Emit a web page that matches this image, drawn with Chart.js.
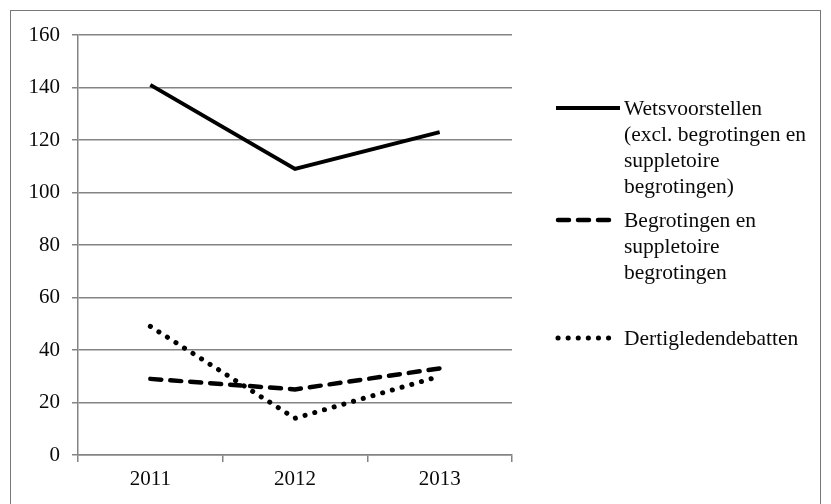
<!DOCTYPE html>
<html>
<head>
<meta charset="utf-8">
<script src="https://cdn.jsdelivr.net/npm/chart.js@4.4.0/dist/chart.umd.min.js"></script>
<style>
  html,body{margin:0;padding:0;background:#fff;}
  #wrap{position:relative;width:831px;height:504px;overflow:hidden;}
  #frame{position:absolute;left:10px;top:10px;width:811px;height:520px;border:1.5px solid #777;box-sizing:border-box;}
  canvas{position:absolute;left:0;top:0;}
</style>
</head>
<body>
<div id="wrap">
  <div id="frame"></div>
  <canvas id="chart" width="831" height="504"></canvas>
</div>
<script>
// data
const years=["2011","2012","2013"];
const wetsvoorstellen=[141,109,123];
const begrotingen=[29,25,33];
const dertigleden=[49,14,30];
const yTicks=[0,20,40,60,80,100,120,140,160];

const legendLines=[
  ["Wetsvoorstellen","(excl. begrotingen en","suppletoire","begrotingen)"],
  ["Begrotingen en","suppletoire","begrotingen"],
  ["Dertigledendebatten"]
];
const legendTops=[108,220,338];

const serif='"Liberation Serif","Times New Roman",serif';
const gridGrey='#848484';
const textCol='#0a0a0a';

// legend drawn on the canvas, multi-line labels
const sideLegend={
  id:'sideLegend',
  afterDraw(chart){
    const c=chart.ctx;
    c.save();
    chart.data.datasets.forEach((ds,i)=>{
      let y=legendTops[i];
      c.beginPath();
      c.strokeStyle=ds.borderColor;
      c.lineWidth=ds.borderWidth;
      c.lineCap=ds.borderCapStyle||'butt';
      c.setLineDash(ds.borderDash||[]);
      c.moveTo(i==0?556:558,y);
      c.lineTo(i==0?620:612,y);
      c.stroke();
      c.setLineDash([]);
      c.fillStyle=textCol;
      c.font='21.5px '+serif;
      c.textBaseline='middle';
      legendLines[i].forEach((t,k)=>c.fillText(t,624,y+1+k*26));
    });
    c.restore();
  }
};

new Chart(document.getElementById('chart').getContext('2d'),{
  type:'line',
  data:{
    labels:years,
    datasets:[
      {label:'Wetsvoorstellen',data:wetsvoorstellen,borderColor:'#000',borderWidth:4,pointRadius:0,tension:0,borderCapStyle:'butt'},
      {label:'Begrotingen en suppletoire begrotingen',data:begrotingen,borderColor:'#000',borderWidth:4.5,borderDash:[11,9],borderCapStyle:'round',pointRadius:0,tension:0},
      {label:'Dertigledendebatten',data:dertigleden,borderColor:'#000',borderWidth:5,borderDash:[0.1,10],borderCapStyle:'round',pointRadius:0,tension:0}
    ]
  },
  options:{
    responsive:false,
    animation:false,
    layout:{padding:{left:0,top:35,right:319,bottom:0}},
    plugins:{legend:{display:false},tooltip:{enabled:false}},
    scales:{
      x:{
        offset:true,
        grid:{offset:true,drawOnChartArea:false,drawTicks:true,tickLength:7,color:gridGrey,lineWidth:1.5},
        border:{color:gridGrey,width:1.5},
        ticks:{font:{family:serif,size:21},color:textCol,padding:5,maxRotation:0},
        afterFit(s){s.height=49;}
      },
      y:{
        min:0,max:160,
        afterBuildTicks(s){s.ticks=yTicks.map(v=>({value:v}));},
        grid:{color:gridGrey,lineWidth:1.5,tickLength:6},
        border:{color:gridGrey,width:1.5},
        ticks:{font:{family:serif,size:21},color:textCol,padding:12},
        afterFit(s){s.width=78;}
      }
    }
  },
  plugins:[sideLegend]
});
</script>
</body>
</html>
